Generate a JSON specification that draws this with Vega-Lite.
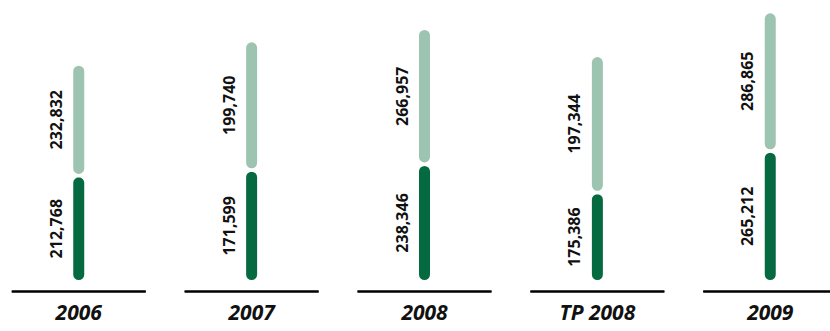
{
  "$schema": "https://vega.github.io/schema/vega-lite/v6.json",
  "autosize": "none",
  "width": 830,
  "height": 295,
  "padding": {"top": 0, "left": 0, "right": 0, "bottom": 36},
  "background": "white",
  "config": {"view": {"stroke": null}},
  "data": {
    "values": [
      {"year": "2006", "series": "a", "label": 212768, "drawn": 223300},
      {"year": "2006", "series": "b", "label": 232832, "drawn": 235100},
      {"year": "2007", "series": "a", "label": 171599, "drawn": 235200},
      {"year": "2007", "series": "b", "label": 199740, "drawn": 272400},
      {"year": "2008", "series": "a", "label": 238346, "drawn": 247400},
      {"year": "2008", "series": "b", "label": 266957, "drawn": 286100},
      {"year": "TP 2008", "series": "a", "label": 175386, "drawn": 187800},
      {"year": "TP 2008", "series": "b", "label": 197344, "drawn": 288800},
      {"year": "2009", "series": "a", "label": 265212, "drawn": 275200},
      {"year": "2009", "series": "b", "label": 286865, "drawn": 293500}
    ]
  },
  "transform": [
    {"stack": "drawn", "groupby": ["year"], "sort": [{"field": "series", "order": "ascending"}], "as": ["v0", "v1"]}
  ],
  "encoding": {
    "x": {
      "field": "year",
      "type": "nominal",
      "sort": ["2006", "2007", "2008", "TP 2008", "2009"],
      "scale": {"type": "band", "range": [0, 849], "paddingInner": 0.225, "paddingOuter": 0.068, "round": false},
      "axis": {
        "title": null,
        "domain": false,
        "ticks": false,
        "tickSize": 0,
        "labelAngle": 0,
        "labelFont": "Open Sans",
        "labelFontSize": 21,
        "labelFontWeight": "bold",
        "labelFontStyle": "italic",
        "labelColor": "#111111",
        "labelBaseline": "alphabetic",
        "labelPadding": 24
      }
    }
  },
  "layer": [
    {
      "mark": {"type": "bar", "width": 14.4, "cornerRadius": 7.2, "stroke": "white", "strokeWidth": 3.4},
      "encoding": {
        "y": {"field": "v0", "type": "quantitative", "scale": {"domain": [-28000, 593053], "nice": false, "zero": false}, "axis": null},
        "y2": {"field": "v1"},
        "color": {"field": "series", "type": "nominal", "scale": {"domain": ["a", "b"], "range": ["#066a41", "#9dc4b1"]}, "legend": null}
      }
    },
    {
      "transform": [
        {"fold": ["v0", "v1"], "as": ["edge", "pos"]}
      ],
      "mark": {"type": "text", "angle": 270, "align": "center", "baseline": "middle", "dy": -22, "font": "Open Sans", "fontSize": 16, "fontWeight": "bold", "color": "#111111"},
      "encoding": {
        "y": {"aggregate": "mean", "field": "pos", "type": "quantitative"},
        "detail": {"field": "series", "type": "nominal"},
        "text": {"field": "label", "type": "quantitative", "format": ","}
      }
    },
    {
      "mark": {"type": "bar", "color": "#000000"},
      "encoding": {
        "y": {"datum": -22737, "type": "quantitative"},
        "y2": {"datum": -18527}
      }
    }
  ]
}
